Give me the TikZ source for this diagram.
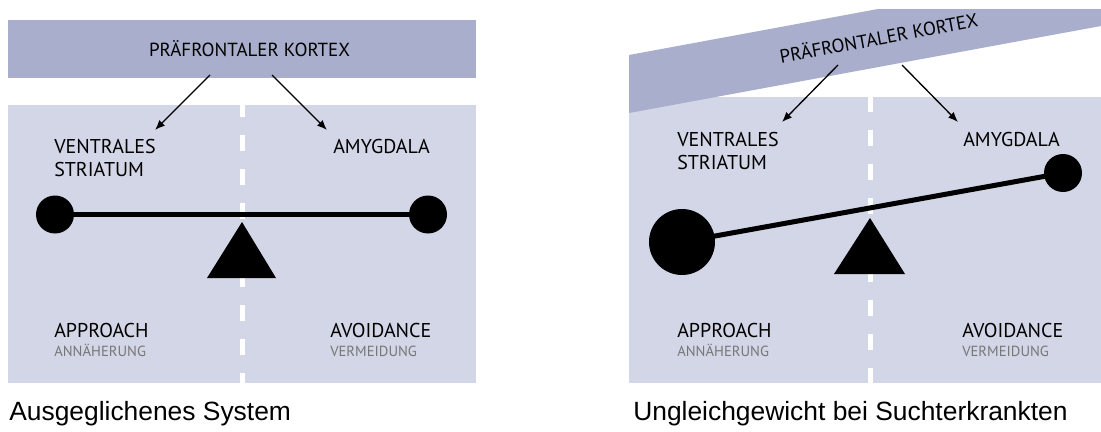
\documentclass[tikz,border=0pt]{standalone}
\usepackage{fontspec}
\setmainfont{PT Sans}
\newfontfamily\capfont{Liberation Sans}
\usepackage{xcolor}
\usepackage{tikz}
\usetikzlibrary{arrows.meta}

\definecolor{barblue}{RGB}{168,174,203}
\definecolor{panelblue}{RGB}{211,214,230}
\definecolor{subgray}{RGB}{118,118,118}

\tikzset{
  areatext/.style={anchor=base west,inner sep=0pt,font=\fontsize{15}{17}\selectfont},
  subtext/.style={anchor=base west,inner sep=0pt,text=subgray,font=\fontsize{11}{13}\selectfont},
  captiontext/.style={anchor=base west,inner sep=0pt,font=\capfont\fontsize{19.8}{23}\selectfont},
  pfctext/.style={anchor=base,inner sep=0pt,font=\fontsize{14.2}{16}\selectfont},
  ctrl/.style={line width=1pt,-{Latex[length=7.5pt,width=6pt]}},
  midline/.style={white,line width=3.75pt,dash pattern=on 12pt off 13.5pt},
  beamline/.style={line width=3.75pt},
}

\begin{document}
\begin{tikzpicture}[x=0.75pt,y=0.75pt,yscale=-1,xscale=1]

\useasboundingbox (0,0) rectangle (1101,432);

% balanced system
\fill [barblue] (8,20) rectangle (476,78);
\fill [panelblue] (8,105) rectangle (476,383);
\draw [midline,dash phase=3pt] (242,105) -- (242,383);

\draw (249.5,56) node [pfctext] (pfcL) {PRÄFRONTALER KORTEX};

\coordinate (pfcL1) at (210,75);
\coordinate (pfcL2) at (272,75);
\coordinate (vsL) at (155,130);
\coordinate (amyL) at (327,130);
\draw [ctrl] (pfcL1) -- (vsL);
\draw [ctrl] (pfcL2) -- (amyL);

\draw (54,153) node [areatext] (ventralL) {VENTRALES};
\draw (54,176) node [areatext] (striatumL) {STRIATUM};
\draw (333,153) node [areatext] (amygdalaL) {AMYGDALA};

\coordinate (ballL1) at (55,214.5);
\coordinate (ballL2) at (428,214.5);
\draw [beamline] (ballL1) -- (ballL2);
\fill (ballL1) circle [radius=19];
\fill (ballL2) circle [radius=19];
\fill (242,222) -- (276,278) -- (207,278) -- cycle;

\draw (54,337) node [areatext] (approachL) {APPROACH};
\draw (54,356) node [subtext] (annaeherungL) {ANNÄHERUNG};
\draw (330,337) node [areatext] (avoidanceL) {AVOIDANCE};
\draw (330,356) node [subtext] (vermeidungL) {VERMEIDUNG};

\draw (9,420) node [captiontext] (capL) {Ausgeglichenes System};

% imbalance
\fill [panelblue] (629,97) rectangle (1101,383);
\draw [midline,dash phase=1pt] (870,97) -- (870,383);
\fill [barblue] (629,55) -- (878,9) -- (1101,9) -- (1101,26) -- (629,113) -- cycle;

\draw (880,45) node [pfctext,rotate=10.46] (pfcR) {PRÄFRONTALER KORTEX};

\coordinate (pfcR1) at (838,65);
\coordinate (pfcR2) at (902,65);
\coordinate (vsR) at (782,122);
\coordinate (amyR) at (958,122);
\draw [ctrl] (pfcR1) -- (vsR);
\draw [ctrl] (pfcR2) -- (amyR);

\draw (677,146) node [areatext] (ventralR) {VENTRALES};
\draw (677,169) node [areatext] (striatumR) {STRIATUM};
\draw (963,146) node [areatext] (amygdalaR) {AMYGDALA};

\coordinate (ballR1) at (682,242);
\coordinate (ballR2) at (1063,173);
\draw [beamline] (ballR1) -- (ballR2);
\fill (ballR1) circle [radius=33];
\fill (ballR2) circle [radius=19];
\fill (870,218) -- (905,274) -- (834,274) -- cycle;

\draw (677,337) node [areatext] (approachR) {APPROACH};
\draw (677,356) node [subtext] (annaeherungR) {ANNÄHERUNG};
\draw (962,337) node [areatext] (avoidanceR) {AVOIDANCE};
\draw (962,356) node [subtext] (vermeidungR) {VERMEIDUNG};

\draw (633,420) node [captiontext] (capR) {Ungleichgewicht bei Suchterkrankten};

\end{tikzpicture}
\end{document}
